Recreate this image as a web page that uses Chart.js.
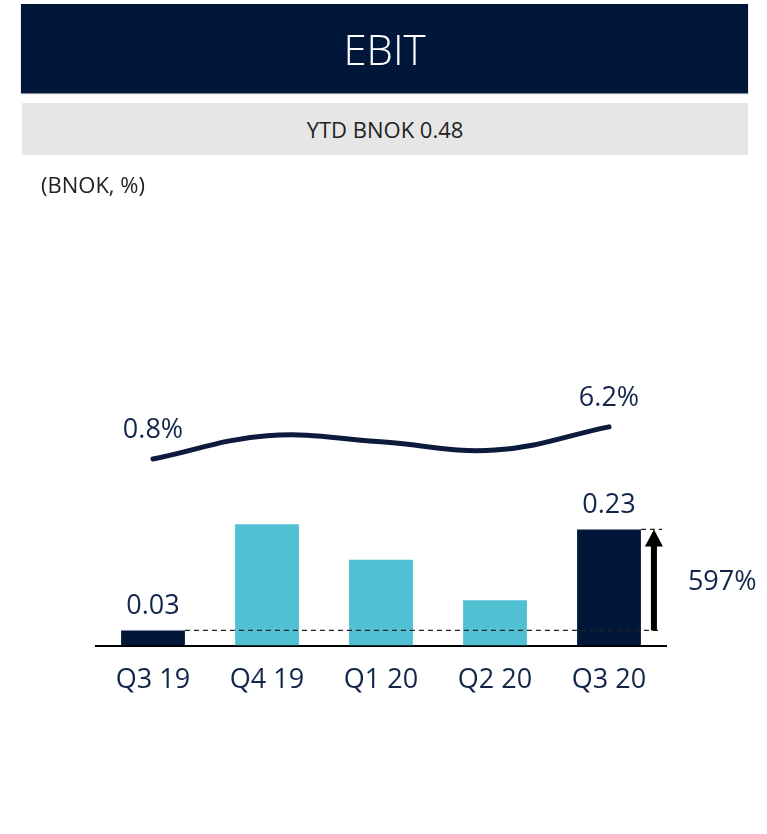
<!DOCTYPE html>
<html>
<head>
<meta charset="utf-8">
<title>EBIT</title>
<script src="https://cdn.jsdelivr.net/npm/chart.js@4.4.1/dist/chart.umd.min.js"></script>
<style>
  body { margin: 0; width: 767px; height: 834px; position: relative; background: #fff; overflow: hidden; font-family: "Open Sans", sans-serif; }
  #wrap { position: absolute; left: 0; top: 0; width: 767px; height: 834px; }
  #head { position: absolute; left: 21px; top: 4px; width: 727px; height: 89px; background: #00173a; color: #fff;
          font-weight: 300; font-size: 42px; text-align: center; line-height: 89px; box-shadow: 0 1px 1px #8a9099; }
  #ytd { position: absolute; left: 22px; top: 103px; width: 726px; height: 52px; background: #e6e6e6; color: #222;
         font-size: 22px; text-align: center; line-height: 52px; }
  #unit { position: absolute; left: 41px; top: 169px; font-size: 22px; color: #222; }
</style>
</head>
<body>
<div id="wrap"><canvas id="myChart" width="767" height="834"></canvas></div>
<div id="head">EBIT</div>
<div id="ytd">YTD BNOK 0.48</div>
<div id="unit">(BNOK, %)</div>
<script>
// quarters and values (EBIT in BNOK, EBIT margin in %)
const categories = ['Q3 19', 'Q4 19', 'Q1 20', 'Q2 20', 'Q3 20'];
const ebit = [0.03, 0.24, 0.17, 0.09, 0.23];
const margin = [0.8, 4.7, 3.7, 2.3, 6.2];
const ebitLabels = ['0.03', '', '', '', '0.23'];
const marginLabels = ['0.8%', '', '', '', '6.2%'];
const growthLabel = '597%';

const navy = '#00173a';
const cyan = '#52c0d3';
const textColor = '#13264a';
const barColors = ebit.map((v, i) => (i === 0 || i === ebit.length - 1) ? navy : cyan);

// labels, dashed reference lines and the growth arrow
const notes = {
  id: 'notes',
  afterDatasetsDraw(chart) {
    const ctx = chart.ctx;
    const y = chart.scales.y;
    const bars = chart.getDatasetMeta(0).data;
    const pts = chart.getDatasetMeta(1).data;
    ctx.save();
    ctx.font = '27px "Open Sans"';
    ctx.fillStyle = textColor;
    ctx.textAlign = 'center';
    ctx.textBaseline = 'middle';
    bars.forEach((b, i) => {
      if (ebitLabels[i]) ctx.fillText(ebitLabels[i], b.x, b.y - 24);
    });
    pts.forEach((p, i) => {
      if (marginLabels[i]) ctx.fillText(marginLabels[i], p.x, p.y - 29);
    });

    const first = bars[0], last = bars[bars.length - 1];
    const y0 = y.getPixelForValue(ebit[0]);
    const y1 = y.getPixelForValue(ebit[ebit.length - 1]);
    const endX = chart.chartArea.right - 4;
    ctx.strokeStyle = '#222';
    ctx.lineWidth = 1.3;
    ctx.setLineDash([5, 4]);
    ctx.beginPath();
    ctx.moveTo(first.x + first.width / 2, y0);
    ctx.lineTo(endX, y0);
    ctx.moveTo(last.x + last.width / 2, y1);
    ctx.lineTo(endX, y1);
    ctx.stroke();
    ctx.setLineDash([]);

    const ax = last.x + last.width / 2 + 13;
    ctx.fillStyle = '#000';
    ctx.fillRect(ax - 3, y1 + 16, 6, y0 - y1 - 16);
    ctx.beginPath();
    ctx.moveTo(ax - 9, y1 + 17);
    ctx.lineTo(ax + 9, y1 + 17);
    ctx.lineTo(ax, y1);
    ctx.closePath();
    ctx.fill();

    ctx.fillStyle = textColor;
    ctx.font = '27px "Open Sans"';
    ctx.textAlign = 'left';
    ctx.fillText(growthLabel, ax + 34, (y0 + y1) / 2 + 2);
    ctx.restore();
  }
};

const ctx = document.getElementById('myChart').getContext('2d');
const chart = new Chart(ctx, {
  type: 'bar',
  data: {
    labels: categories,
    datasets: [{
      label: 'EBIT',
      data: ebit,
      backgroundColor: barColors,
      barPercentage: 0.56,
      categoryPercentage: 1,
      yAxisID: 'y'
    }, {
      type: 'line',
      label: 'EBIT margin',
      data: margin,
      borderColor: '#0c1a3c',
      borderWidth: 5,
      borderCapStyle: 'round',
      tension: 0.4,
      pointRadius: 0,
      fill: false,
      yAxisID: 'y2'
    }]
  },
  options: {
    responsive: false,
    animation: false,
    layout: { padding: { top: 292, left: 96, right: 101, bottom: 118 } },
    plugins: { legend: { display: false }, tooltip: { enabled: false } },
    scales: {
      x: {
        grid: { display: false, drawTicks: false },
        border: { color: '#000', width: 2 },
        ticks: { color: textColor, font: { family: 'Open Sans', size: 27 }, padding: 19 }
      },
      y: { display: false, min: 0, max: 0.7 },
      y2: { display: false, min: -30.6, max: 28.9 }
    }
  },
  plugins: [notes]
});
</script>
</body>
</html>
